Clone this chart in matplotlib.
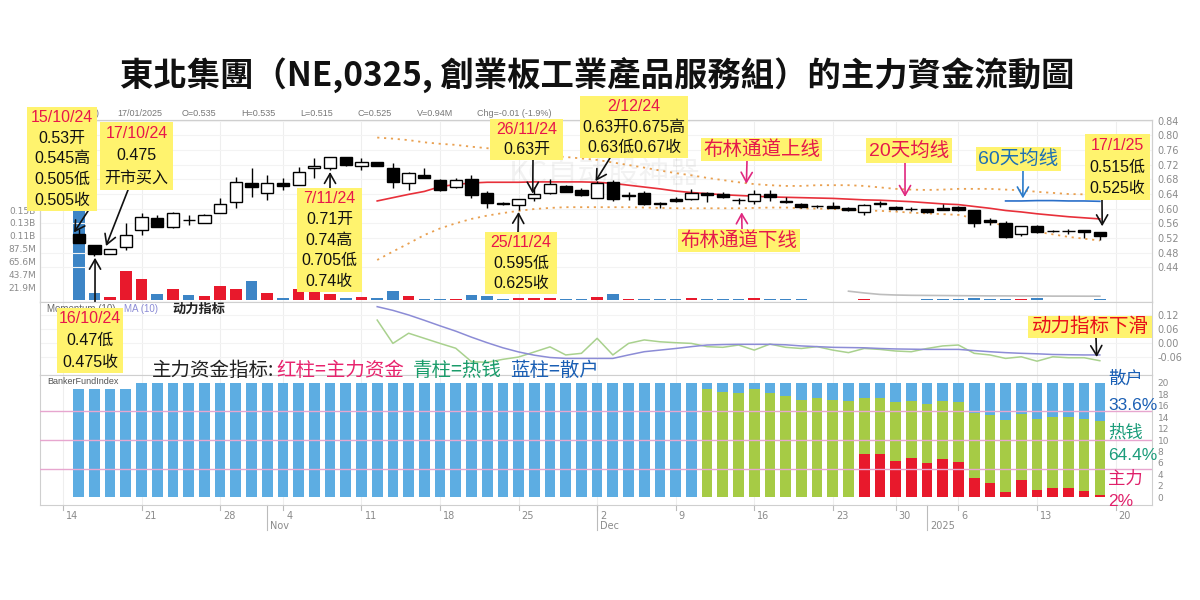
import matplotlib
matplotlib.use('Agg')
import matplotlib.pyplot as plt
from matplotlib.patches import Rectangle
import numpy as np

# ---------------- data ----------------
day_index = list(range(66))   # trading days 15 Oct 2024 .. 17 Jan 2025
opens = [0.530, 0.500, 0.475, 0.495, 0.542, 0.574, 0.551, 0.569, 0.560, 0.587,
         0.619, 0.669, 0.642, 0.669, 0.664, 0.712, 0.710, 0.742, 0.716, 0.726,
         0.710, 0.670, 0.692, 0.678, 0.660, 0.680, 0.643, 0.615, 0.610, 0.630,
         0.642, 0.662, 0.651, 0.630, 0.672, 0.635, 0.642, 0.614, 0.626, 0.626,
         0.644, 0.639, 0.623, 0.621, 0.639, 0.622, 0.613, 0.607, 0.607, 0.603,
         0.590, 0.613, 0.605, 0.600, 0.599, 0.603, 0.605, 0.596, 0.569, 0.560,
         0.530, 0.553, 0.539, 0.538, 0.542, 0.535]
highs = [0.545, 0.500, 0.490, 0.560, 0.587, 0.583, 0.592, 0.583, 0.586, 0.628,
         0.687, 0.710, 0.692, 0.683, 0.714, 0.737, 0.740, 0.742, 0.737, 0.728,
         0.725, 0.700, 0.710, 0.680, 0.684, 0.692, 0.648, 0.618, 0.627, 0.660,
         0.680, 0.665, 0.655, 0.675, 0.678, 0.646, 0.648, 0.618, 0.632, 0.653,
         0.646, 0.645, 0.628, 0.651, 0.651, 0.632, 0.616, 0.610, 0.618, 0.605,
         0.612, 0.620, 0.607, 0.605, 0.600, 0.613, 0.607, 0.597, 0.575, 0.565,
         0.553, 0.556, 0.543, 0.545, 0.543, 0.535]
lows = [0.505, 0.470, 0.475, 0.487, 0.528, 0.551, 0.548, 0.556, 0.560, 0.587,
        0.601, 0.633, 0.624, 0.650, 0.664, 0.683, 0.705, 0.716, 0.705, 0.716,
        0.655, 0.650, 0.683, 0.648, 0.655, 0.628, 0.601, 0.610, 0.595, 0.620,
        0.640, 0.645, 0.635, 0.630, 0.620, 0.623, 0.610, 0.601, 0.619, 0.624,
        0.619, 0.630, 0.614, 0.614, 0.621, 0.615, 0.601, 0.601, 0.601, 0.594,
        0.583, 0.605, 0.597, 0.594, 0.587, 0.596, 0.594, 0.551, 0.555, 0.520,
        0.525, 0.533, 0.536, 0.532, 0.519, 0.515]
closes = [0.505, 0.475, 0.490, 0.528, 0.578, 0.551, 0.587, 0.569, 0.583, 0.614,
          0.674, 0.660, 0.669, 0.662, 0.701, 0.716, 0.740, 0.719, 0.728, 0.717,
          0.674, 0.697, 0.683, 0.651, 0.678, 0.637, 0.615, 0.613, 0.625, 0.640,
          0.668, 0.646, 0.637, 0.670, 0.625, 0.638, 0.614, 0.613, 0.620, 0.642,
          0.637, 0.633, 0.623, 0.639, 0.633, 0.617, 0.605, 0.607, 0.602, 0.596,
          0.610, 0.614, 0.599, 0.599, 0.590, 0.597, 0.597, 0.560, 0.563, 0.523,
          0.553, 0.537, 0.539, 0.539, 0.535, 0.525]
volume_m = [170, 12.5, 5, 50, 35, 10, 19, 8, 7, 24,
            19, 33, 12, 4, 19, 15, 11, 4, 5, 3,
            15, 7, 2, 2, 2, 8, 6, 2, 4, 4,
            4, 1.5, 1.5, 5, 10, 2, 1.5, 2, 2, 3,
            1, 1, 1, 3, 1, 1, 1.5, 0.5, 0.5, 0.5,
            1.5, 0.5, 0.5, 0.5, 1.5, 1.5, 1.5, 4, 2, 2,
            2.5, 4, 0.5, 0.5, 0.5, 0.94]

ma20_start = 19
ma20 = [0.621, 0.630, 0.639, 0.647, 0.660, 0.666, 0.670, 0.672, 0.672, 0.672,
        0.673, 0.673, 0.673, 0.673, 0.672, 0.669, 0.664, 0.659, 0.654, 0.648,
        0.644, 0.641, 0.638, 0.636, 0.634, 0.632, 0.631, 0.630, 0.629, 0.628,
        0.626, 0.624, 0.623, 0.621, 0.619, 0.616, 0.613, 0.611, 0.606, 0.601,
        0.595, 0.591, 0.586, 0.582, 0.578, 0.575, 0.572]
bb_upper = [0.794, 0.791, 0.787, 0.781, 0.777, 0.774, 0.769, 0.765, 0.759, 0.753,
            0.748, 0.744, 0.741, 0.737, 0.733, 0.726, 0.719, 0.712, 0.704, 0.697,
            0.691, 0.684, 0.678, 0.672, 0.667, 0.664, 0.662, 0.662, 0.664, 0.664,
            0.664, 0.662, 0.658, 0.654, 0.652, 0.651, 0.652, 0.654, 0.654, 0.654,
            0.652, 0.650, 0.646, 0.643, 0.640, 0.639, 0.637]
bb_lower = [0.460, 0.483, 0.505, 0.528, 0.546, 0.560, 0.572, 0.581, 0.588, 0.594,
            0.599, 0.602, 0.604, 0.604, 0.604, 0.604, 0.604, 0.603, 0.602, 0.601,
            0.601, 0.601, 0.601, 0.601, 0.602, 0.603, 0.603, 0.601, 0.600, 0.599,
            0.597, 0.595, 0.594, 0.592, 0.589, 0.587, 0.585, 0.583, 0.574, 0.563,
            0.553, 0.544, 0.537, 0.530, 0.523, 0.518, 0.513]
ma60_start = 59
ma60 = [0.621, 0.621, 0.622, 0.622, 0.621, 0.621, 0.620]
volma_start = 49
vol_ma_m = [15, 12, 9.5, 8.5, 8, 7.8, 7.6, 7.4, 7.2, 7, 7, 6.8, 6.8, 6.6, 6.6, 6.5, 6.5]

mom_start = 19
momentum = [0.098, -0.003, 0.041, 0.019, -0.003, -0.024, -0.082, -0.085, -0.072, -0.062,
            -0.040, -0.018, -0.053, -0.046, 0.019, -0.053, -0.003, 0.012, 0.004, 0.000,
            -0.003, -0.017, -0.020, -0.010, -0.032, -0.006, -0.020, -0.025, -0.017, -0.032,
            -0.043, -0.025, -0.029, -0.036, -0.039, -0.025, -0.014, -0.010, -0.046, -0.053,
            -0.068, -0.061, -0.080, -0.061, -0.065, -0.065, -0.078]
momentum_ma = [0.156, 0.140, 0.120, 0.097, 0.073, 0.050, 0.024, 0.000, -0.022, -0.040,
               -0.054, -0.064, -0.068, -0.068, -0.068, -0.068, -0.053, -0.039, -0.032, -0.025,
               -0.017, -0.010, -0.008, -0.007, -0.007, -0.007, -0.009, -0.014, -0.017, -0.020,
               -0.021, -0.022, -0.025, -0.027, -0.028, -0.029, -0.029, -0.029, -0.034, -0.039,
               -0.043, -0.046, -0.048, -0.051, -0.052, -0.053, -0.053]

# Banker fund index: 主力 (red), 热钱 (green), 散户 (blue)
zhuli = [0, 0, 0, 0, 0, 0, 0, 0, 0, 0,
         0, 0, 0, 0, 0, 0, 0, 0, 0, 0,
         0, 0, 0, 0, 0, 0, 0, 0, 0, 0,
         0, 0, 0, 0, 0, 0, 0, 0, 0, 0,
         0, 0, 0, 0, 0, 0, 0, 0, 0, 0,
         7.6, 7.6, 6.4, 6.8, 5.9, 6.7, 6.2, 3.3, 2.4, 0.9,
         2.9, 1.3, 1.6, 1.6, 1.1, 0.4]
reqian = [0, 0, 0, 0, 0, 0, 0, 0, 0, 0,
          0, 0, 0, 0, 0, 0, 0, 0, 0, 0,
          0, 0, 0, 0, 0, 0, 0, 0, 0, 0,
          0, 0, 0, 0, 0, 0, 0, 0, 0, 0,
          19.0, 18.4, 18.2, 18.9, 18.3, 17.8, 17.1, 17.3, 17.0, 16.8,
          9.8, 9.8, 10.3, 10.1, 10.5, 10.1, 10.4, 11.5, 12.0, 12.6,
          11.6, 12.4, 12.4, 12.4, 12.6, 12.88]
sanhu = [18.9, 18.9, 18.9, 18.9, 20, 20, 20, 20, 20, 20,
         20, 20, 20, 20, 20, 20, 20, 20, 20, 20,
         20, 20, 20, 20, 20, 20, 20, 20, 20, 20,
         20, 20, 20, 20, 20, 20, 20, 20, 20, 20,
         1.0, 1.6, 1.8, 1.1, 1.7, 2.2, 2.9, 2.7, 3.0, 3.2,
         2.6, 2.6, 3.3, 3.1, 3.6, 3.2, 3.4, 5.2, 5.6, 6.5,
         5.5, 6.3, 6.0, 6.0, 6.3, 6.72]

week_tick_idx = [-1, 4, 9, 13, 18, 23, 28, 33, 38, 43, 48, 52, 56, 61, 66]
week_tick_lbl = ['14', '21', '28', '4', '11', '18', '25', '2', '9', '16', '23', '30', '6', '13', '20']
month_idx = [12, 33, 54]
month_lbl = ['Nov', 'Dec', '2025']
price_ticks = [0.44, 0.48, 0.52, 0.56, 0.60, 0.64, 0.68, 0.72, 0.76, 0.80, 0.84]
vol_ticks_m = [21.875, 43.75, 65.625, 87.5, 109.375, 131.25, 153.125]
vol_tick_lbl = ['21.9M', '43.7M', '65.6M', '87.5M', '0.11B', '0.13B', '0.15B']
mom_ticks = [0.12, 0.06, 0.00, -0.06]
bfi_ticks = [0, 2, 4, 6, 8, 10, 12, 14, 16, 18, 20]
bfi_guides = [5, 10, 15]

title = '東北集團（NE,0325, 創業板工業產品服務組）的主力資金流動圖'
header_items = ['17/01/2025', 'O=0.535', 'H=0.535', 'L=0.515', 'C=0.525', 'V=0.94M', 'Chg=-0.01 (-1.9%)']

# ---------------- style ----------------
W, H = 1200, 600
ANN_FONT = ['Liberation Sans', 'Noto Sans CJK SC']
YEL = '#fff36e'
DATE_RED = '#e8174a'
PINK = '#e5194b'
MAG = '#e0287f'
BLUE_T = '#1d6fb5'
GRID = '#eeeeee'
SPINE = '#cfcfcf'
LBL = '#8a8a8a'

fig = plt.figure(figsize=(12, 6), dpi=100)
fig.patch.set_facecolor('white')


def rect(l, t, r, b):
    return [l / W, 1 - b / H, (r - l) / W, (b - t) / H]


X0, X1 = 40, 1152
ax_v = fig.add_axes(rect(X0, 120, X1, 302))
ax_p = ax_v.twinx()
ax_m = fig.add_axes(rect(X0, 302, X1, 375), sharex=ax_v)
ax_b = fig.add_axes(rect(X0, 375, X1, 505), sharex=ax_v)

ax_v.set_xlim(-2.464, 68.32)
ax_v.set_ylim(-3.4, 306.4)
ax_p.set_ylim(0.3453, 0.8419)
ax_m.set_ylim(-0.1398, 0.1762)
ax_b.set_ylim(-1.4, 21.4)

for ax in (ax_v, ax_p, ax_m, ax_b):
    for s in ax.spines.values():
        s.set_color(SPINE)
        s.set_linewidth(0.8)
    ax.tick_params(length=0, labelsize=7, labelcolor=LBL)

for ax in (ax_v, ax_m, ax_b):
    for xi in week_tick_idx:
        ax.axvline(xi, color=GRID, lw=0.8, zorder=0)

x = np.array(day_index)
o = np.array(opens); h = np.array(highs); l = np.array(lows); c = np.array(closes)
up = c > o

# volume
vol_col = np.where(up, '#e8192c', '#3d85c6')
ax_v.bar(x, volume_m, width=0.74, color=vol_col, zorder=2)
ax_v.plot(range(volma_start, volma_start + len(vol_ma_m)), vol_ma_m, color='#bdbdbd', lw=1.2, zorder=3)
ax_v.set_yticks(vol_ticks_m)
ax_v.set_yticklabels(vol_tick_lbl)
ax_v.tick_params(axis='y', pad=3, labelsize=6.5)
ax_v.tick_params(axis='x', labelbottom=False)

# price
for p in price_ticks:
    ax_p.axhline(p, color='#f3f3f3', lw=0.8, zorder=0)
ax_p.text(33.5, 0.695, 'KC自动股神器', fontsize=22, color='black', alpha=0.05,
          ha='center', va='center', family=['Noto Sans CJK SC'], zorder=1)
ax_p.vlines(x, l, h, color='black', lw=1, zorder=3)
body_b = np.minimum(o, c)
body_h = np.maximum(np.abs(c - o), 0.0012)
ax_p.bar(x, body_h, bottom=body_b, width=0.78, color=np.where(up, 'white', 'black'),
         edgecolor='black', linewidth=1, zorder=4)
ax_p.plot(range(ma20_start, ma20_start + len(ma20)), ma20, color='#e8303a', lw=1.2, zorder=2)
ax_p.plot(range(ma20_start, ma20_start + len(bb_upper)), bb_upper, color='#e9a050', lw=1.3,
          ls=(0, (1.2, 2.6)), zorder=2)
ax_p.plot(range(ma20_start, ma20_start + len(bb_lower)), bb_lower, color='#e9a050', lw=1.3,
          ls=(0, (1.2, 2.6)), zorder=2)
ax_p.plot(range(ma60_start, ma60_start + len(ma60)), ma60, color='#2a6fc9', lw=1.2, zorder=2)
ax_p.set_yticks(price_ticks)
ax_p.set_yticklabels([f'{p:.2f}' for p in price_ticks])
ax_p.tick_params(axis='y', pad=4)

# momentum
for m in mom_ticks:
    ax_m.axhline(m, color='#f3f3f3', lw=0.8, zorder=0)
xm = range(mom_start, mom_start + len(momentum))
ax_m.plot(xm, momentum, color='#a9d18e', lw=1.1, zorder=3)
ax_m.plot(range(mom_start, mom_start + len(momentum_ma)), momentum_ma, color='#8c8cd6', lw=1.1, zorder=3)
ax_m.yaxis.tick_right()
ax_m.set_yticks(mom_ticks)
ax_m.set_yticklabels([f'{m:.2f}' for m in mom_ticks])
ax_m.tick_params(axis='y', pad=4)
ax_m.tick_params(axis='x', labelbottom=False)

# banker fund index
zl = np.array(zhuli); rq = np.array(reqian); sh = np.array(sanhu)
ax_b.bar(x, zl, width=0.68, color='#e8192c', zorder=2)
ax_b.bar(x, rq, bottom=zl, width=0.68, color='#a6cb45', zorder=2)
ax_b.bar(x, sh, bottom=zl + rq, width=0.68, color='#5dade2', zorder=2)
for g in bfi_guides:
    ax_b.axhline(g, color='#e7a6cf', lw=1, zorder=4)
ax_b.yaxis.tick_right()
ax_b.set_yticks(bfi_ticks)
ax_b.set_yticklabels([str(t) for t in bfi_ticks])
ax_b.tick_params(axis='y', pad=4, labelsize=6.5)
ax_b.tick_params(axis='x', labelbottom=False)

trans = ax_b.get_xaxis_transform()
for xi, lb in zip(week_tick_idx, week_tick_lbl):
    ax_b.plot([xi, xi], [0, -0.04], transform=trans, color='#bbbbbb', lw=0.8, clip_on=False)
    ax_b.text(xi + 0.2, -0.085, lb, transform=trans, fontsize=7, color=LBL, ha='left', va='center')
for xi, lb in zip(month_idx, month_lbl):
    ax_b.plot([xi, xi], [0, -0.19], transform=trans, color='#bbbbbb', lw=0.8, clip_on=False)
    ax_b.text(xi + 0.2, -0.165, lb, transform=trans, fontsize=7, color=LBL, ha='left', va='center')

# ---------------- texts ----------------
def ftext(px, py, s, **kw):
    return fig.text(px / W, 1 - py / H, s, **kw)


ftext(597, 75, title, ha='center', va='center', fontsize=24, fontweight='bold',
      family=['Noto Sans CJK TC'], color='#111111')

ftext(99, 113, 'NE (0325)', ha='right', va='center', fontsize=6.5, color='#777777', family=['Liberation Sans'])
for px, s in zip([117, 182, 241, 300, 358, 417, 477], header_items):
    ftext(px, 113, s, ha='left', va='center', fontsize=6.5, color='#777777', family=['Liberation Sans'])

ftext(47, 309, 'Momentum (10)', ha='left', va='center', fontsize=7, color='#666666', family=['Liberation Sans'])
ftext(124, 309, 'MA (10)', ha='left', va='center', fontsize=7, color='#8c8cd6', family=['Liberation Sans'])
ftext(172, 309, '动力指标', ha='left', va='center', fontsize=9.5, fontweight='bold', color='#222222',
      family=['Noto Sans CJK SC'])
ftext(47, 381, 'BankerFundIndex', ha='left', va='center', fontsize=6.5, color='#555555', family=['Liberation Sans'])

legend_parts = [('主力资金指标:', '#222222', 152), ('红柱=主力资金', '#e8246e', 276),
                ('青柱=热钱', '#1a9c6a', 413), ('蓝柱=散户', '#1a5fb4', 510)]
for s, col, px in legend_parts:
    ftext(px, 370, s, ha='left', va='center', fontsize=14, color=col, family=['Noto Sans CJK SC'])

side_parts = [('散户', '#1a5fb4', 378), ('33.6%', '#1a5fb4', 406), ('热钱', '#1a9c7a', 432),
              ('64.4%', '#1a9c7a', 455), ('主力', '#e0206a', 479), ('2%', '#e0206a', 501)]
for s, col, py in side_parts:
    ftext(1108, py, s, ha='left', va='center', fontsize=12.5, color=col, family=ANN_FONT, zorder=6)


def box(l, t, r, b, lines, colors, fs):
    fig.add_artist(Rectangle((l / W, 1 - b / H), (r - l) / W, (b - t) / H, transform=fig.transFigure,
                             facecolor=YEL, edgecolor='none', zorder=5))
    n = len(lines)
    lh = (b - t) / n
    for i, (s, col) in enumerate(zip(lines, colors)):
        ftext((l + r) / 2, t + (i + 0.5) * lh, s, ha='center', va='center', fontsize=fs,
              color=col, family=ANN_FONT, zorder=6)


def arrow(ax, xy, tail_px, col):
    ax.annotate('', xy=xy, xycoords='data', xytext=(tail_px[0], H - tail_px[1]),
                textcoords='figure pixels', annotation_clip=False,
                arrowprops=dict(arrowstyle='->,head_length=0.7,head_width=0.4', color=col,
                                lw=1.2, shrinkA=0, shrinkB=0), zorder=4)


K = '#111111'
arrow(ax_p, (-0.3, 0.535), (88, 211), K)
arrow(ax_p, (1.74, 0.498), (128, 190), K)
arrow(ax_p, (1.04, 0.466), (95, 308), K)
arrow(ax_p, (16.0, 0.700), (330, 190), K)
arrow(ax_p, (28.9, 0.641), (533, 160), K)
arrow(ax_p, (32.9, 0.675), (610, 158), K)
arrow(ax_p, (28.0, 0.591), (518, 232), K)
arrow(ax_p, (42.5, 0.668), (747, 161), MAG)
arrow(ax_p, (42.2, 0.590), (742, 229), MAG)
arrow(ax_p, (52.6, 0.632), (905, 163), MAG)
arrow(ax_p, (60.1, 0.628), (1023, 171), '#2a7ac9')
arrow(ax_p, (65.15, 0.552), (1102, 200), K)
arrow(ax_m, (64.8, -0.062), (1096, 338), K)

box(27, 107, 97, 211, ['15/10/24', '0.53开', '0.545高', '0.505低', '0.505收'],
    [DATE_RED, K, K, K, K], 11.5)
box(100, 122, 173, 190, ['17/10/24', '0.475', '开市买入'], [DATE_RED, K, K], 11.5)
box(57, 308, 123, 373, ['16/10/24', '0.47低', '0.475收'], [DATE_RED, K, K], 11.5)
box(297, 188, 362, 292, ['7/11/24', '0.71开', '0.74高', '0.705低', '0.74收'],
    [DATE_RED, K, K, K, K], 11.5)
box(490, 119, 563, 160, ['26/11/24', '0.63开'], [DATE_RED, K], 11.5)
box(580, 96, 688, 158, ['2/12/24', '0.63开0.675高', '0.63低0.67收'], [DATE_RED, K, K], 11.5)
box(485, 232, 557, 294, ['25/11/24', '0.595低', '0.625收'], [DATE_RED, K, K], 11.5)
box(701, 138, 822, 161, ['布林通道上线'], [PINK], 14)
box(678, 229, 800, 252, ['布林通道下线'], [PINK], 14)
box(866, 138, 952, 163, ['20天均线'], [PINK], 14)
box(976, 147, 1061, 171, ['60天均线'], [BLUE_T], 14)
box(1085, 134, 1150, 200, ['17/1/25', '0.515低', '0.525收'], [DATE_RED, K, K], 11.5)
box(1028, 316, 1152, 338, ['动力指标下滑'], ['#e8101a'], 14)

fig.savefig('out.png', dpi=100)
